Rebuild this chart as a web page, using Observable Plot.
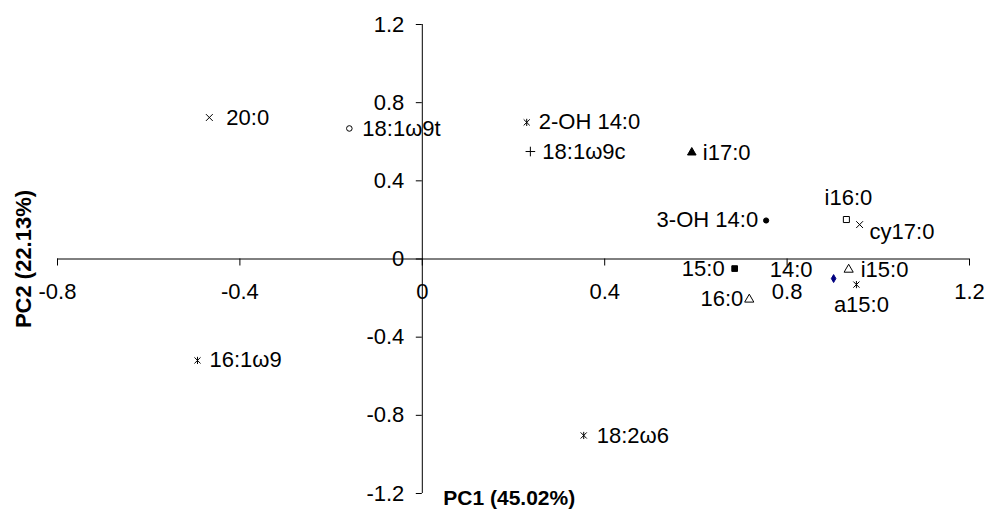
<!DOCTYPE html>
<html><head><meta charset="utf-8">
<script src="https://cdn.jsdelivr.net/npm/d3@7"></script>
<script src="https://cdn.jsdelivr.net/npm/@observablehq/plot@0.6"></script>
<style>body{margin:0;background:#fff}</style>
</head><body><div id="chart"></div>
<script>
const names = ["20:0","18:1ω9t","2-OH 14:0","18:1ω9c","i17:0","3-OH 14:0","i16:0","cy17:0","15:0","14:0","i15:0","a15:0","16:0","16:1ω9","18:2ω6"];
const pc1 = [-0.467,-0.160,0.229,0.237,0.591,0.754,0.930,0.959,0.685,0.902,0.935,0.952,0.717,-0.493,0.354];
const pc2 = [0.724,0.668,0.699,0.550,0.545,0.197,0.202,0.176,-0.049,-0.100,-0.054,-0.131,-0.207,-0.519,-0.903];
const markers = ["times","circleOpen","star","plus","triangleFilled","circleFilled","squareOpen","times","squareFilled","diamondNavy","triangleOpen","star","triangleOpen","star","star"];
const xTicks = [-0.8,-0.4,0,0.4,0.8,1.2];
const yTicks = [-1.2,-0.8,-0.4,0,0.4,0.8,1.2];
const xTickLabels = ["-0.8","-0.4","0","0.4","0.8","1.2"];
const yTickLabels = ["-1.2","-0.8","-0.4","0","0.4","0.8","1.2"];
const xTitle = "PC1 (45.02%)";
const yTitle = "PC2 (22.13%)";

// label placement (pixel offsets from marker, text anchor)
const labelPlacement = {
  "20:0": [17, 0, "start"],
  "18:1ω9t": [13, 0, "start"],
  "2-OH 14:0": [12, 0, "start"],
  "18:1ω9c": [12, 0, "start"],
  "i17:0": [11, 0, "start"],
  "3-OH 14:0": [-8, -1, "end"],
  "i16:0": [2, -22, "middle"],
  "cy17:0": [10, 7, "start"],
  "15:0": [-10, 0, "end"],
  "14:0": [-21, -9, "end"],
  "i15:0": [12, 0, "start"],
  "a15:0": [5, 20, "middle"],
  "16:0": [-6, 0, "end"],
  "16:1ω9": [12, 0, "start"],
  "18:2ω6": [13, 0, "start"]
};
// Excel-style star marker: an X with a vertical bar
const excelStar = {
  draw(context, size) {
    const r = Math.sqrt(size / Math.PI);
    const d = r * 0.85;
    context.moveTo(-d, -d); context.lineTo(d, d);
    context.moveTo(-d, d); context.lineTo(d, -d);
    context.moveTo(0, -r); context.lineTo(0, r);
  }
};
const markerStyle = {
  times: {symbol: "times", fill: "none", stroke: "black", r: 3.2},
  circleOpen: {symbol: "circle", fill: "white", stroke: "black", r: 2.8},
  star: {symbol: excelStar, fill: "none", stroke: "black", r: 3.6},
  plus: {symbol: "plus", fill: "none", stroke: "black", r: 3.2},
  triangleFilled: {symbol: "triangle", fill: "black", stroke: "black", r: 3.2},
  circleFilled: {symbol: "circle", fill: "black", stroke: "black", r: 2.6},
  squareOpen: {symbol: "square", fill: "white", stroke: "black", r: 3.4},
  squareFilled: {symbol: "square", fill: "black", stroke: "black", r: 3.2},
  diamondNavy: {symbol: "diamond", fill: "#000080", stroke: "#000080", r: 2.4},
  triangleOpen: {symbol: "triangle", fill: "white", stroke: "black", r: 3.4}
};

const points = names.map((n, i) => ({name: n, pc1: pc1[i], pc2: pc2[i], marker: markers[i]}));
const FS = 22;

const marks = [
  Plot.ruleY([0], {x1: xTicks[0], x2: xTicks[xTicks.length - 1], stroke: "black", strokeWidth: 1}),
  Plot.ruleX([0], {y1: yTicks[0], y2: yTicks[yTicks.length - 1], stroke: "black", strokeWidth: 1}),
  Plot.ruleX(xTicks, {x: d => d, y1: 0, y2: 0, insetBottom: -7, stroke: "black", strokeWidth: 1}),
  Plot.ruleY(yTicks, {y: d => d, x1: 0, x2: 0, insetLeft: -6, stroke: "black", strokeWidth: 1}),
  Plot.text(xTicks, {x: d => d, y: 0, text: (d, i) => xTickLabels[i], dy: 33, fontSize: FS, fill: "black"}),
  Plot.text(yTicks, {x: 0, y: d => d, text: (d, i) => yTickLabels[i], dx: -18, textAnchor: "end", fontSize: FS, fill: "black"}),
  Plot.text([xTitle], {x: 0, y: yTicks[0], text: d => d, dx: 21, dy: 5, textAnchor: "start", fontSize: 21, fontWeight: "bold", fill: "black"}),
  Plot.text([yTitle], {frameAnchor: "left", text: d => d, dx: -34, rotate: -90, textAnchor: "middle", fontSize: 22, fontWeight: "bold", fill: "black"}),
  ...Object.entries(markerStyle).map(([k, s]) =>
    Plot.dot(points.filter(d => d.marker === k), {x: "pc1", y: "pc2", ...s, strokeWidth: 1})),
  ...points.map(p => {
    const [dx, dy, anchor] = labelPlacement[p.name];
    return Plot.text([p], {x: "pc1", y: "pc2", text: "name", dx, dy, textAnchor: anchor, fontSize: FS, fill: "black"});
  })
];

const chart = Plot.plot({
  width: 988,
  height: 511,
  marginLeft: 57,
  marginRight: 19,
  marginTop: 24,
  marginBottom: 18,
  x: {domain: [-0.8, 1.2], axis: null},
  y: {domain: [-1.2, 1.2], axis: null},
  style: {fontFamily: "'Liberation Sans', Arial, sans-serif", background: "white", overflow: "visible"},
  marks
});
document.getElementById("chart").appendChild(chart);
</script>
</body></html>
